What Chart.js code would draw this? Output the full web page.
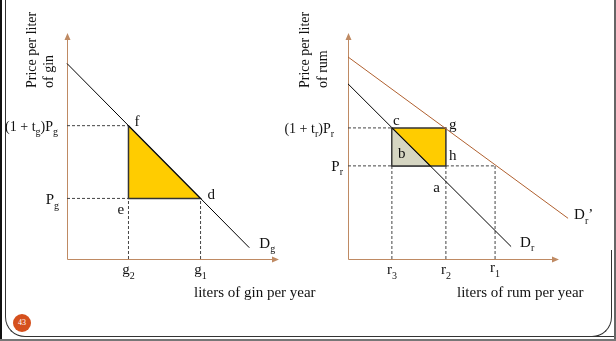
<!DOCTYPE html>
<html>
<head>
<meta charset="utf-8">
<script src="https://cdn.jsdelivr.net/npm/chart.js@4.4.1/dist/chart.umd.min.js"></script>
<style>
  body { margin: 0; background: #fff; width: 616px; height: 341px; overflow: hidden; position: relative; }
  canvas { position: absolute; top: 0; left: 0; }
  .edge { position: absolute; }
  #num { position: absolute; left: 13px; top: 314px; width: 18px; height: 18px; border-radius: 50%;
         background: #d5501d; color: #fff; font: 8px "Liberation Serif", serif; text-align: center; line-height: 18px; }
</style>
</head>
<body>
<div class="edge" style="left:0;top:0;width:2px;height:341px;background:#111"></div>
<div class="edge" style="left:5px;top:-30px;width:640px;height:366px;border-left:1px solid #333;border-bottom:1px solid #333;border-bottom-left-radius:20px"></div>
<div class="edge" style="left:560px;top:250px;width:51px;height:86px;border-right:1px solid #333;border-bottom:1px solid #333;border-bottom-right-radius:20px"></div>
<div class="edge" style="left:614px;top:0;width:2px;height:341px;background:#666"></div>
<div class="edge" style="left:0;top:339px;width:616px;height:2px;background:#777"></div>
<div id="num">43</div>
<canvas id="gin" width="616" height="341"></canvas>
<canvas id="rum" width="616" height="341"></canvas>
<script>
// gin market
const ginQty = [2.9, 6.3];            // g2, g1
const ginQtyNames = ['2', '1'];
const ginPrice = [2.68, 5.9];         // Pg, (1+tg)Pg
const ginDemandX = [0, 8.6];
const ginDemandY = [8.65, 0.5];

// rum market
const rumQty = [2.08, 4.64, 6.97];    // r3, r2, r1
const rumQtyNames = ['3', '2', '1'];
const rumPrice = [4.12, 5.8];         // Pr, (1+tr)Pr
const rumDemandX = [0, 7.73];
const rumDemandY = [7.75, 0.55];
const rumDemand2X = [0, 10.43];
const rumDemand2Y = [8.94, 1.8];
const rumCross = 3.9;                 // Dr meets Pr (point a)

const FONT = '"Liberation Serif", "Times New Roman", serif';
const AXIS = '#bf8a63';
const DASH = '#444';

function seg(pts, opts) {
  return Object.assign({
    data: pts.map(p => ({ x: p[0], y: p[1] })),
    showLine: true, pointRadius: 0, borderWidth: 1, borderColor: '#000',
    fill: false, clip: false, tension: 0
  }, opts);
}
function dash(pts) { return seg(pts, { borderColor: DASH, borderDash: [3, 2], order: 5 }); }

function rich(ctx, parts, x, y, align, size) {
  const sub = Math.round(size * 0.68);
  let w = 0;
  parts.forEach(p => { ctx.font = (p[1] ? sub : size) + 'px ' + FONT; w += ctx.measureText(p[0]).width; });
  let cx = align === 'right' ? x - w : align === 'center' ? x - w / 2 : x;
  ctx.textAlign = 'left';
  ctx.textBaseline = 'alphabetic';
  parts.forEach(p => {
    ctx.font = (p[1] ? sub : size) + 'px ' + FONT;
    ctx.fillText(p[0], cx, y + (p[1] ? size * 0.3 : 0));
    cx += ctx.measureText(p[0]).width;
  });
}

function vtitle(ctx, lines, xs, y0) {
  ctx.save();
  ctx.fillStyle = '#111';
  ctx.font = '14px ' + FONT;
  lines.forEach((t, i) => {
    ctx.save();
    ctx.translate(xs[i], y0);
    ctx.rotate(-Math.PI / 2);
    ctx.textAlign = 'left';
    ctx.fillText(t, 0, 0);
    ctx.restore();
  });
  ctx.restore();
}

// axes with arrowheads, drawn through the chart scales
const axesPlugin = {
  id: 'axes',
  beforeDatasetsDraw(chart) {
    const { ctx, scales: { x, y } } = chart;
    const x0 = x.getPixelForValue(0), y0 = y.getPixelForValue(0);
    const x1 = x.getPixelForValue(10), y1 = y.getPixelForValue(10);
    ctx.save();
    ctx.strokeStyle = AXIS; ctx.fillStyle = AXIS; ctx.lineWidth = 1;
    ctx.beginPath();
    ctx.moveTo(x0 + 0.5, y0 + 0.5); ctx.lineTo(x1 - 4, y0 + 0.5);
    ctx.moveTo(x0 + 0.5, y0 + 0.5); ctx.lineTo(x0 + 0.5, y1 + 4);
    ctx.stroke();
    ctx.beginPath();
    ctx.moveTo(x1, y0 + 0.5); ctx.lineTo(x1 - 7, y0 - 2.5); ctx.lineTo(x1 - 7, y0 + 3.5); ctx.closePath();
    ctx.moveTo(x0 + 0.5, y1); ctx.lineTo(x0 - 2.5, y1 + 7); ctx.lineTo(x0 + 3.5, y1 + 7); ctx.closePath();
    ctx.fill();
    ctx.restore();
  }
};

// text labels anchored to data values
function labelPlugin(items, extra) {
  return {
    id: 'labels',
    afterDatasetsDraw(chart) {
      const { ctx, scales: { x, y } } = chart;
      ctx.save();
      ctx.fillStyle = '#111';
      items.forEach(it => {
        rich(ctx, it.parts, x.getPixelForValue(it.at[0]) + it.dx, y.getPixelForValue(it.at[1]) + it.dy, it.align || 'left', it.size || 15);
      });
      extra(ctx);
      ctx.restore();
    }
  };
}

function baseOptions(pad) {
  return {
    responsive: false, animation: false, devicePixelRatio: 1,
    layout: { padding: pad },
    plugins: { legend: { display: false }, tooltip: { enabled: false } },
    scales: {
      x: { type: 'linear', min: 0, max: 10, display: false },
      y: { type: 'linear', min: 0, max: 10, display: false }
    }
  };
}

// ---------- gin chart ----------
const [g2, g1] = ginQty;
const [pg, pgt] = ginPrice;
new Chart(document.getElementById('gin'), {
  type: 'scatter',
  data: {
    datasets: [
      seg([[ginDemandX[0], ginDemandY[0]], [ginDemandX[1], ginDemandY[1]]], { order: 1 }),
      seg([[g2, pgt], [g2, pg], [g1, pg], [g2, pgt]], { fill: 'shape', backgroundColor: '#ffcc00', borderColor: '#333', borderWidth: 1.5, order: 8 }),
      dash([[0, pgt], [g2, pgt]]),
      dash([[0, pg], [g2, pg]]),
      dash([[g2, 0], [g2, pg]]),
      dash([[g1, 0], [g1, pg]])
    ]
  },
  options: baseOptions({ left: 67, right: 337, top: 33, bottom: 82 }),
  plugins: [axesPlugin, labelPlugin([
    { parts: [['f', 0]], at: [g2, pgt], dx: 6, dy: 0 },
    { parts: [['d', 0]], at: [g1, pg], dx: 7, dy: 1 },
    { parts: [['e', 0]], at: [g2, pg], dx: -11, dy: 16 },
    { parts: [['D', 0], ['g', 1]], at: [ginDemandX[1], ginDemandY[1]], dx: 10, dy: 0 },
    { parts: [['(1 + t', 0], ['g', 1], [')P', 0], ['g', 1]], at: [0, pgt], dx: -9, dy: 5, align: 'right', size: 14 },
    { parts: [['P', 0], ['g', 1]], at: [0, pg], dx: -8, dy: 6, align: 'right' },
    { parts: [['g', 0], [ginQtyNames[0], 1]], at: [g2, 0], dx: 0, dy: 15, align: 'center' },
    { parts: [['g', 0], [ginQtyNames[1], 1]], at: [g1, 0], dx: 0, dy: 15, align: 'center' }
  ], ctx => {
    ctx.font = '15px ' + FONT;
    ctx.textAlign = 'left';
    ctx.fillText('liters of gin per year', 194, 297);
    vtitle(ctx, ['Price per liter', 'of gin'], [35.5, 53], 88);
  })]
});

// ---------- rum chart ----------
const [r3, r2, r1] = rumQty;
const [pr, prt] = rumPrice;
new Chart(document.getElementById('rum'), {
  type: 'scatter',
  data: {
    datasets: [
      seg([[rumDemandX[0], rumDemandY[0]], [rumDemandX[1], rumDemandY[1]]], { order: 1 }),
      seg([[rumDemand2X[0], rumDemand2Y[0]], [rumDemand2X[1], rumDemand2Y[1]]], { borderColor: '#b0602f', order: 2 }),
      seg([[r3, prt], [r2, prt], [r2, pr], [r3, pr], [r3, prt]], { fill: 'shape', backgroundColor: '#ffcc00', borderColor: '#333', borderWidth: 1.5, order: 9 }),
      seg([[r3, prt], [r3, pr], [rumCross, pr], [r3, prt]], { fill: 'shape', backgroundColor: '#d6d6c2', borderColor: '#333', borderWidth: 1.2, order: 8 }),
      dash([[0, prt], [r3, prt]]),
      dash([[0, pr], [r3, pr]]),
      dash([[r2, pr], [r1, pr]]),
      dash([[r3, 0], [r3, pr]]),
      dash([[r2, 0], [r2, pr]]),
      dash([[r1, 0], [r1, pr]])
    ]
  },
  options: baseOptions({ left: 348, right: 57, top: 33, bottom: 82 }),
  plugins: [axesPlugin, labelPlugin([
    { parts: [['c', 0]], at: [r3, prt], dx: 1, dy: -3 },
    { parts: [['g', 0]], at: [r2, prt], dx: 3, dy: 1 },
    { parts: [['b', 0]], at: [r3, pr], dx: 6, dy: -8 },
    { parts: [['h', 0]], at: [r2, pr], dx: 3, dy: -6 },
    { parts: [['a', 0]], at: [rumCross, pr], dx: 3, dy: 26 },
    { parts: [['D', 0], ['r', 1], ['\u2019', 0]], at: [rumDemand2X[1], rumDemand2Y[1]], dx: 6, dy: 1 },
    { parts: [['D', 0], ['r', 1]], at: [rumDemandX[1], rumDemandY[1]], dx: 9, dy: 0 },
    { parts: [['(1 + t', 0], ['r', 1], [')P', 0], ['r', 1]], at: [0, prt], dx: -14, dy: 5, align: 'right', size: 14 },
    { parts: [['P', 0], ['r', 1]], at: [0, pr], dx: -5, dy: 5, align: 'right' },
    { parts: [['r', 0], [rumQtyNames[0], 1]], at: [r3, 0], dx: 0, dy: 15, align: 'center' },
    { parts: [['r', 0], [rumQtyNames[1], 1]], at: [r2, 0], dx: 0, dy: 15, align: 'center' },
    { parts: [['r', 0], [rumQtyNames[2], 1]], at: [r1, 0], dx: 0, dy: 13, align: 'center' }
  ], ctx => {
    ctx.font = '15px ' + FONT;
    ctx.textAlign = 'left';
    ctx.fillText('liters of rum per year', 457, 297);
    vtitle(ctx, ['Price per liter', 'of rum'], [309, 327], 88);
  })]
});
</script>
</body>
</html>
